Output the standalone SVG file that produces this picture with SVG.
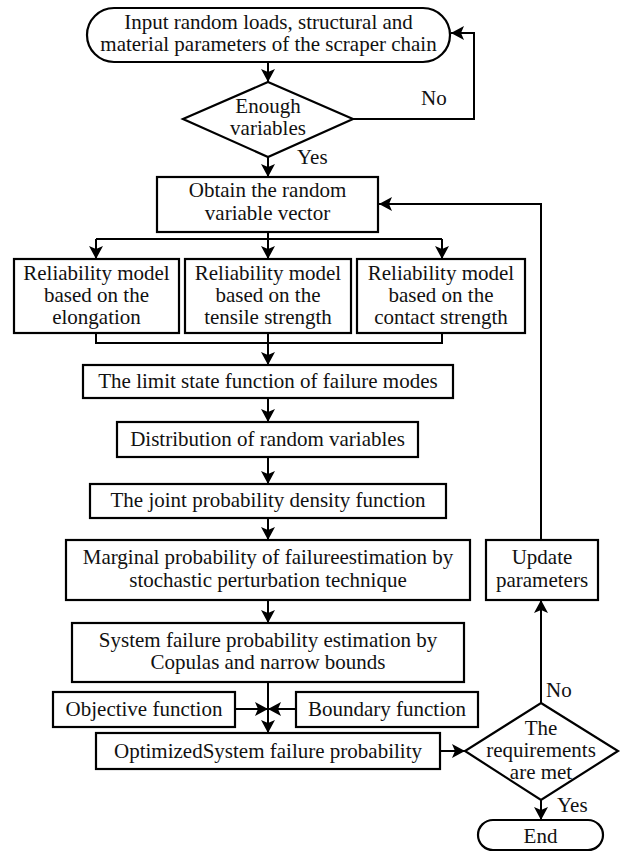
<svg xmlns="http://www.w3.org/2000/svg" width="627" height="852" viewBox="0 0 627 852">
<style>
.n{fill:#fff;stroke:#000;stroke-width:2.2}
.t{font-size:21px;fill:#111;text-anchor:middle}
.l{font-size:21px;fill:#111}
.c{fill:none;stroke:#000;stroke-width:2}
</style>
<defs>
<marker id="a" markerUnits="userSpaceOnUse" markerWidth="16" markerHeight="16" refX="13" refY="7" orient="auto">
<path d="M0,0 L13,7 L0,14 L3,7 z" fill="#000"/>
</marker>
</defs>
<rect width="627" height="852" fill="#fff"/>
<g font-family="'Liberation Serif', 'Times New Roman', 'DejaVu Serif', serif">
<g id="connectors">
<path class="c" d="M268,62 V82" marker-end="url(#a)"/>
<path class="c" d="M353,119 H474 V33 H451" marker-end="url(#a)"/>
<path class="c" d="M268,157 V177" marker-end="url(#a)"/>
<path class="c" d="M541,540 V204 H379" marker-end="url(#a)"/>
<path class="c" d="M268,232 V239 M96,239 H442"/>
<path class="c" d="M96,239 V259" marker-end="url(#a)"/>
<path class="c" d="M268,239 V259" marker-end="url(#a)"/>
<path class="c" d="M442,239 V259" marker-end="url(#a)"/>
<path class="c" d="M96,333 V343 H442 V333"/>
<path class="c" d="M268,333 V365" marker-end="url(#a)"/>
<path class="c" d="M268,398 V422" marker-end="url(#a)"/>
<path class="c" d="M268,457 V484" marker-end="url(#a)"/>
<path class="c" d="M268,518 V540" marker-end="url(#a)"/>
<path class="c" d="M268,600 V623" marker-end="url(#a)"/>
<path class="c" d="M268,682 V733" marker-end="url(#a)"/>
<path class="c" d="M235,709 H268" marker-end="url(#a)"/>
<path class="c" d="M296,709 H268" marker-end="url(#a)"/>
<path class="c" d="M440,751 H465" marker-end="url(#a)"/>
<path class="c" d="M541,703 V600" marker-end="url(#a)"/>
<path class="c" d="M541,800 V820" marker-end="url(#a)"/>
<text class="l" x="421" y="105">No</text>
<text class="l" x="297" y="164">Yes</text>
<text class="l" x="546" y="697">No</text>
<text class="l" x="557" y="812">Yes</text>
</g>
<g id="start">
<rect class="n" x="87" y="8" width="363" height="54" rx="27"/>
<text class="t" x="268.5" y="29">Input random loads, structural and</text>
<text class="t" x="268.5" y="51">material parameters of the scraper chain</text>
</g>
<g id="enough">
<polygon class="n" points="268,82 353,119 268,157 183,119"/>
<text class="t" x="268" y="113">Enough</text>
<text class="t" x="268" y="135">variables</text>
</g>
<g id="obtain">
<rect class="n" x="157" y="177" width="221" height="55"/>
<text class="t" x="267.5" y="197">Obtain the random</text>
<text class="t" x="267.5" y="220">variable vector</text>
</g>
<g id="rel-elong">
<rect class="n" x="14" y="259" width="165" height="74"/>
<text class="t" x="96.5" y="280">Reliability model</text>
<text class="t" x="96.5" y="302">based on the</text>
<text class="t" x="96.5" y="324">elongation</text>
</g>
<g id="rel-tensile">
<rect class="n" x="185" y="259" width="166" height="74"/>
<text class="t" x="268" y="280">Reliability model</text>
<text class="t" x="268" y="302">based on the</text>
<text class="t" x="268" y="324">tensile strength</text>
</g>
<g id="rel-contact">
<rect class="n" x="357" y="259" width="168" height="74"/>
<text class="t" x="441" y="280">Reliability model</text>
<text class="t" x="441" y="302">based on the</text>
<text class="t" x="441" y="324">contact strength</text>
</g>
<g id="limit">
<rect class="n" x="83" y="365" width="370" height="33"/>
<text class="t" x="268" y="388">The limit state function of failure modes</text>
</g>
<g id="distribution">
<rect class="n" x="117" y="422" width="301" height="35"/>
<text class="t" x="267.5" y="446">Distribution of random variables</text>
</g>
<g id="joint">
<rect class="n" x="90" y="484" width="356" height="34"/>
<text class="t" x="268" y="507">The joint probability density function</text>
</g>
<g id="marginal">
<rect class="n" x="66" y="540" width="404" height="60"/>
<text class="t" x="268" y="564">Marginal probability of failureestimation by</text>
<text class="t" x="268" y="587">stochastic perturbation technique</text>
</g>
<g id="update">
<rect class="n" x="486" y="540" width="112" height="60"/>
<text class="t" x="542" y="564">Update</text>
<text class="t" x="542" y="587">parameters</text>
</g>
<g id="system">
<rect class="n" x="72" y="623" width="392" height="59"/>
<text class="t" x="268" y="647">System failure probability estimation by</text>
<text class="t" x="268" y="669">Copulas and narrow bounds</text>
</g>
<g id="objective">
<rect class="n" x="53" y="692" width="182" height="35"/>
<text class="t" x="144" y="716">Objective function</text>
</g>
<g id="boundary">
<rect class="n" x="296" y="692" width="182" height="35"/>
<text class="t" x="387" y="716">Boundary function</text>
</g>
<g id="optimized">
<rect class="n" x="96" y="733" width="344" height="36"/>
<text class="t" x="268" y="758">OptimizedSystem failure probability</text>
</g>
<g id="requirements">
<polygon class="n" points="541,703 618,751 541,800 465,751"/>
<text class="t" x="541" y="735">The</text>
<text class="t" x="541" y="757">requirements</text>
<text class="t" x="541" y="779">are met</text>
</g>
<g id="end">
<rect class="n" x="478" y="820" width="125" height="30" rx="15"/>
<text class="t" x="540.5" y="843">End</text>
</g>
</g>
</svg>
